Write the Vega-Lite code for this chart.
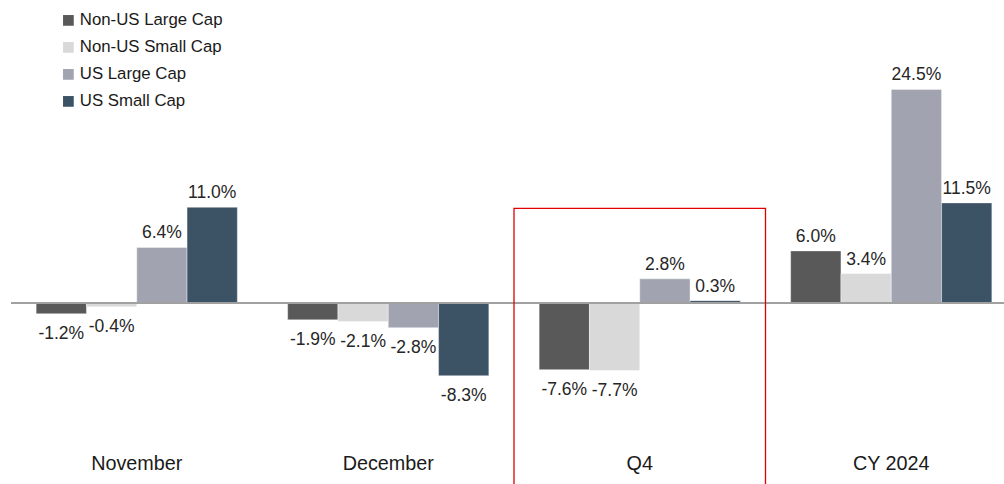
{
  "$schema": "https://vega.github.io/schema/vega-lite/v6.json",
  "width": 1004,
  "height": 484,
  "autosize": {"type": "none"},
  "padding": 0,
  "background": "white",
  "config": {"view": {"stroke": null}, "font": "Liberation Sans"},
  "data": {"values": [
    {"period": "November", "series": "Non-US Large Cap", "value": -1.2, "label": "-1.2%"},
    {"period": "November", "series": "Non-US Small Cap", "value": -0.4, "label": "-0.4%"},
    {"period": "November", "series": "US Large Cap", "value": 6.4, "label": "6.4%"},
    {"period": "November", "series": "US Small Cap", "value": 11.0, "label": "11.0%"},
    {"period": "December", "series": "Non-US Large Cap", "value": -1.9, "label": "-1.9%"},
    {"period": "December", "series": "Non-US Small Cap", "value": -2.1, "label": "-2.1%"},
    {"period": "December", "series": "US Large Cap", "value": -2.8, "label": "-2.8%"},
    {"period": "December", "series": "US Small Cap", "value": -8.3, "label": "-8.3%"},
    {"period": "Q4", "series": "Non-US Large Cap", "value": -7.6, "label": "-7.6%"},
    {"period": "Q4", "series": "Non-US Small Cap", "value": -7.7, "label": "-7.7%"},
    {"period": "Q4", "series": "US Large Cap", "value": 2.8, "label": "2.8%"},
    {"period": "Q4", "series": "US Small Cap", "value": 0.3, "label": "0.3%"},
    {"period": "CY 2024", "series": "Non-US Large Cap", "value": 6.0, "label": "6.0%"},
    {"period": "CY 2024", "series": "Non-US Small Cap", "value": 3.4, "label": "3.4%"},
    {"period": "CY 2024", "series": "US Large Cap", "value": 24.5, "label": "24.5%"},
    {"period": "CY 2024", "series": "US Small Cap", "value": 11.5, "label": "11.5%"}
  ]},
  "encoding": {
    "x": {"field": "period", "type": "nominal", "sort": ["November", "December", "Q4", "CY 2024"],
          "scale": {"domain": ["November", "December", "Q4", "CY 2024"], "range": [11, 1017], "paddingInner": 0, "paddingOuter": 0},
          "axis": {"title": null, "domain": false, "ticks": false, "grid": false, "labelAngle": 0,
                   "labelFont": "Liberation Sans", "labelFontSize": 19.8, "labelColor": "#1a1a1a",
                   "labelBaseline": "middle", "labelPadding": -21, "labelAlign": "center"}},
    "y": {"field": "value", "type": "quantitative", "scale": {"domain": [-20.7, 34.74], "nice": false, "zero": false}, "axis": null}
  },
  "layer": [
    {
      "mark": {"type": "bar", "stroke": "white", "strokeWidth": 0.4},
      "encoding": {
        "xOffset": {"field": "series", "type": "nominal", "sort": ["Non-US Large Cap", "Non-US Small Cap", "US Large Cap", "US Small Cap"],
                    "scale": {"paddingInner": 0, "paddingOuter": 0.5}},
        "y2": {"datum": 0},
        "color": {"field": "series", "type": "nominal",
                  "scale": {"domain": ["Non-US Large Cap", "Non-US Small Cap", "US Large Cap", "US Small Cap"],
                            "range": ["#595959", "#d9d9d9", "#a1a4b0", "#3c5265"]},
                  "legend": {"title": null, "orient": "none", "legendX": 60, "legendY": 12,
                             "symbolType": "square", "symbolSize": 115, "symbolStrokeWidth": 0,
                             "labelFont": "Liberation Sans", "labelFontSize": 16.8, "labelColor": "#1a1a1a",
                             "rowPadding": 9, "labelOffset": 3, "padding": 0}}
      }
    },
    {
      "mark": {"type": "rule", "color": "#a0a0a0", "strokeWidth": 1},
      "encoding": {"y": {"datum": 0}, "x": {"datum": "November", "bandPosition": 0}, "x2": {"datum": "CY 2024", "bandPosition": 1}}
    },
    {
      "transform": [{"filter": "datum.value >= 0"}],
      "mark": {"type": "text", "baseline": "middle", "align": "center", "dy": -14, "fontSize": 17.5, "color": "#262626"},
      "encoding": {
        "xOffset": {"field": "series", "type": "nominal", "sort": ["Non-US Large Cap", "Non-US Small Cap", "US Large Cap", "US Small Cap"]},
        "text": {"field": "label"}
      }
    },
    {
      "transform": [{"filter": "datum.value < 0"}],
      "mark": {"type": "text", "baseline": "middle", "align": "center", "dy": 20, "fontSize": 17.5, "color": "#262626"},
      "encoding": {
        "xOffset": {"field": "series", "type": "nominal", "sort": ["Non-US Large Cap", "Non-US Small Cap", "US Large Cap", "US Small Cap"]},
        "text": {"field": "label"}
      }
    },
    {
      "data": {"values": [{"period": "Q4", "top": 10.88, "bottom": -23}]},
      "mark": {"type": "rect", "fill": null, "fillOpacity": 0, "stroke": "#e00000", "strokeWidth": 1.3},
      "encoding": {"y": {"field": "top", "type": "quantitative"}, "y2": {"field": "bottom"}}
    }
  ]
}
